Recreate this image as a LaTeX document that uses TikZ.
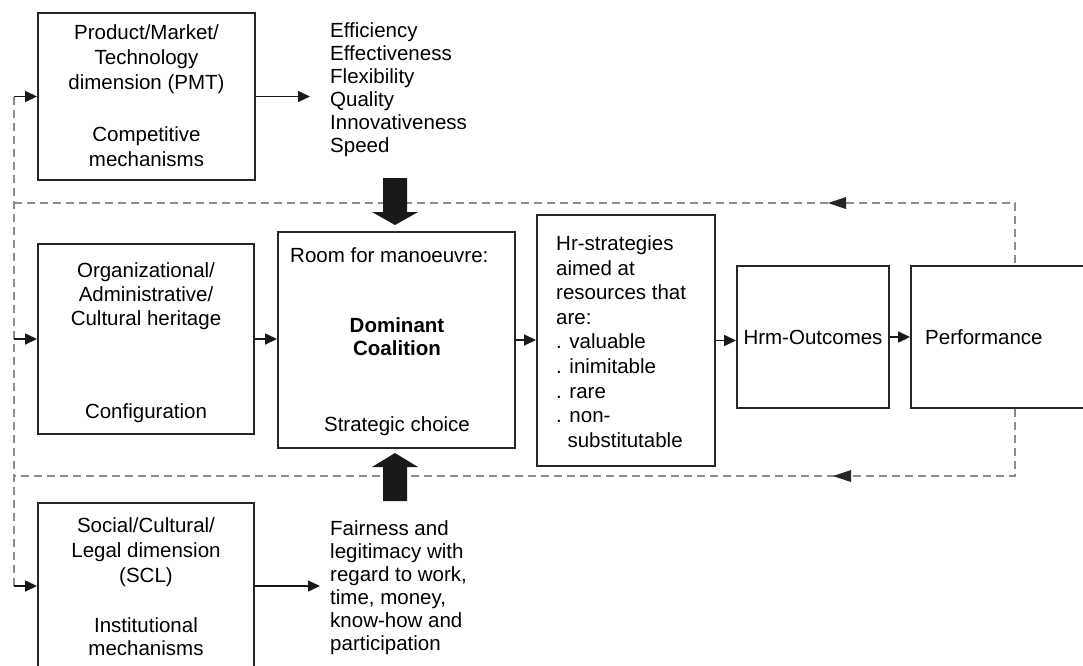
\documentclass[tikz,border=0pt]{standalone}
\usepackage{fontspec}
\setmainfont{Liberation Sans}
\usetikzlibrary{arrows.meta,calc}
\begin{document}
\begin{tikzpicture}[x=1pt,y=-1pt,
 box/.style={draw=black!85, line width=1.9pt, rectangle, inner sep=0pt},
 txt/.style={font=\fontsize{20.5}{25}\selectfont, inner sep=0pt, align=center},
 ltxt/.style={font=\fontsize{20.5}{23}\selectfont, inner sep=0pt, align=left, anchor=west},
 conn/.style={draw=black!90, line width=1.5pt, -{Triangle[length=12pt,width=11pt]}},
 fb/.style={draw=black!45, line width=2.8pt, dash pattern=on 8pt off 5pt},
 tipfill/.style={fill=black!85},
 bigarrow/.style={fill=black!90},
]
\useasboundingbox (0,0) rectangle (1083,665);
\clip (0,0) rectangle (1083,665);

% boxes
\node[box, minimum width=217pt, minimum height=167pt] (pmt) at (146.5,96.5) {};
\node[box, minimum width=216pt, minimum height=190pt] (org) at (146,339) {};
\node[box, minimum width=216pt, minimum height=187pt] (scl) at (146,596.5) {};
\node[box, minimum width=237pt, minimum height=216pt] (room) at (396.5,340) {};
\node[box, minimum width=178pt, minimum height=251pt] (hr) at (626,340.5) {};
\node[box, minimum width=152pt, minimum height=142pt] (hrm) at (813,337) {};
\node[box, minimum width=189pt, minimum height=142pt] (perf) at (1005.5,337) {};

% texts
\node[txt] (pmtA) at (146.5,59) {Product/Market/\\Technology\\dimension (PMT)};
\node[txt] (pmtB) at (146.5,147) {Competitive\\mechanisms};
\node[ltxt] (eff) at (330,89.5) {Efficiency\\Effectiveness\\Flexibility\\Quality\\Innovativeness\\Speed};
\node[txt, font=\fontsize{20.5}{24}\selectfont] (orgA) at (146,296) {Organizational/\\Administrative/\\Cultural heritage};
\node[txt] (orgB) at (146,413) {Configuration};
\node[ltxt] (roomA) at (290,255) {Room for manoeuvre:};
\node[txt, font=\fontsize{20.5}{23}\selectfont\bfseries] (roomB) at (397,336.5) {Dominant\\Coalition};
\node[txt] (roomC) at (397,426) {Strategic choice};
\node[ltxt, font=\fontsize{20.5}{24.6}\selectfont] (hrT) at (556,341.5) {Hr-strategies\\aimed at\\resources that\\are:\\. valuable\\. inimitable\\. rare\\. non-\\\hphantom{.\ }substitutable};
\node[txt] (hrmT) at (813,337) {Hrm-Outcomes};
\node[ltxt] (perfT) at (925,337) {Performance};
\node[txt, font=\fontsize{20.5}{25}\selectfont] (sclA) at (146,552) {Social/Cultural/\\Legal dimension\\(SCL)};
\node[txt, font=\fontsize{20.5}{23}\selectfont] (sclB) at (146,636.5) {Institutional\\mechanisms};
\node[ltxt] (fair) at (330,587.5) {Fairness and\\legitimacy with\\regard to work,\\time, money,\\know-how and\\participation};

% coordinates
\coordinate (effin) at (310,96.5);
\coordinate (fairin) at (320,586);
\coordinate (LT) at (14,96.5);
\coordinate (LM) at (14,339);
\coordinate (LB) at (14,586);
\coordinate (TL) at (14,203);
\coordinate (TR) at (1015,203);
\coordinate (BL) at (14,476);
\coordinate (BR) at (1015,476);

% feedback dashed lines
\draw[fb] (LT) -- (LB);
\draw[fb] (TL) -- (TR) -- (TR |- perf.north);
\draw[fb] (BR |- perf.south) -- (BR) -- (BL);
\fill[tipfill] (828,203) -- (846,197) -- (846,209) -- cycle;
\fill[tipfill] (833,476) -- (851,470) -- (851,482) -- cycle;

% connectors
\draw[conn] (pmt.east) -- (effin);
\draw[conn] (fairin -| scl.east) -- (fairin);
\draw[conn] (LT) -- (LT -| pmt.west);
\draw[conn] (LM) -- (LM -| org.west);
\draw[conn] (LB) -- (LB -| scl.west);
\draw[conn] (org.east) -- (org.east -| room.west);
\draw[conn] (room.east) -- (room.east -| hr.west);
\draw[conn] (hr.east) -- (hr.east -| hrm.west);
\draw[conn] (hrm.east) -- (perf.west);

% big arrows
\fill[bigarrow] (383,178) -- (407,178) -- (407,212) -- (418,212) -- (395,225) -- (372,212) -- (383,212) -- cycle;
\fill[bigarrow] (383,501) -- (407,501) -- (407,467) -- (418,467) -- (395,453) -- (372,467) -- (383,467) -- cycle;
\end{tikzpicture}
\end{document}
